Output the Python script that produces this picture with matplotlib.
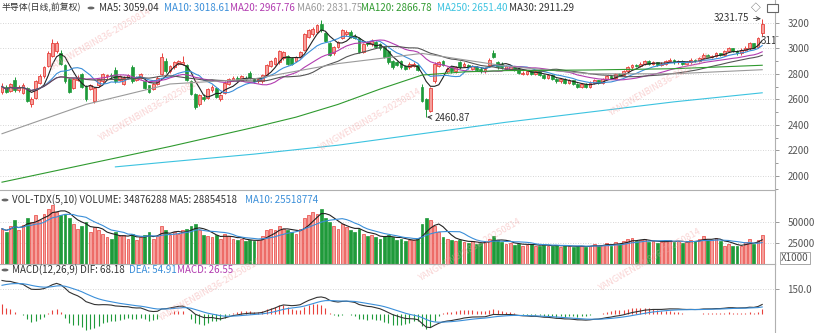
import numpy as np
import pandas as pd
import matplotlib.pyplot as plt
from matplotlib.patches import Rectangle, Circle

plt.rcParams['font.family'] = ['Noto Sans CJK SC', 'DejaVu Sans']

# daily candles (open / high / low / close)
opens = [2660, 2700, 2665, 2750, 2675, 2650, 2690, 2565, 2610, 2730,
         2780, 2860, 2940, 2980, 2960, 2870, 2760, 2690, 2750, 2800,
         2700, 2680, 2590, 2710, 2740, 2780, 2790, 2830, 2750, 2720,
         2770, 2850, 2750, 2770, 2740, 2710, 2680, 2720, 2800, 2900,
         2820, 2850, 2880, 2880, 2870, 2740, 2640, 2560, 2620, 2610,
         2670, 2690, 2600, 2650, 2720, 2750, 2770, 2750, 2770, 2810,
         2760, 2740, 2740, 2790, 2860, 2880, 2890, 2920, 2940, 2920,
         2900, 2930, 2990, 3090, 3110, 3130, 3190, 3120, 3040, 2960,
         3010, 3080, 3110, 3130, 3100, 3080, 2970, 3050, 3030, 3050,
         3030, 3010, 2980, 2900, 2890, 2900, 2860, 2850, 2860, 2870,
         2700, 2600, 2510, 2740, 2860, 2900, 2820, 2850, 2820, 2890,
         2860, 2870, 2840, 2850, 2840, 2820, 2870, 2960, 2890, 2880,
         2840, 2840, 2850, 2840, 2800, 2800, 2820, 2800, 2820, 2790,
         2770, 2790, 2760, 2740, 2760, 2730, 2750, 2720, 2700, 2720,
         2700, 2730, 2750, 2730, 2760, 2780, 2770, 2800, 2790, 2820,
         2850, 2870, 2860, 2880, 2900, 2880, 2890, 2870, 2880, 2900,
         2910, 2890, 2900, 2880, 2890, 2910, 2900, 2920, 2950, 2930,
         2940, 2960, 2950, 2980, 3000, 2980, 2960, 2990, 3000, 3040,
         3010, 3120]
highs = [2725, 2710, 2730, 2775, 2715, 2725, 2700, 2615, 2750, 2795,
         2860, 2975, 3070, 3060, 2990, 2880, 2770, 2770, 2790, 2810,
         2710, 2720, 2700, 2770, 2810, 2800, 2810, 2850, 2790, 2780,
         2800, 2870, 2780, 2810, 2750, 2715, 2730, 2780, 2960, 2920,
         2870, 2900, 2910, 2940, 2880, 2750, 2650, 2640, 2640, 2690,
         2710, 2700, 2640, 2740, 2770, 2780, 2780, 2790, 2780, 2820,
         2770, 2770, 2800, 2880, 2910, 2930, 2990, 2980, 2950, 2930,
         2940, 2980, 3120, 3150, 3170, 3190, 3225, 3130, 3050, 3020,
         3060, 3150, 3140, 3140, 3110, 3090, 3040, 3060, 3070, 3060,
         3040, 3020, 2990, 2910, 2900, 2910, 2870, 2890, 2890, 2880,
         2720, 2610, 2700, 2890, 2900, 2910, 2850, 2860, 2860, 2900,
         2890, 2880, 2870, 2860, 2850, 2850, 2920, 2985, 2900, 2890,
         2870, 2870, 2860, 2850, 2820, 2830, 2830, 2830, 2825, 2800,
         2800, 2795, 2770, 2770, 2765, 2760, 2755, 2730, 2730, 2725,
         2740, 2760, 2755, 2770, 2790, 2790, 2810, 2810, 2830, 2860,
         2880, 2880, 2890, 2910, 2910, 2900, 2895, 2890, 2910, 2920,
         2915, 2910, 2905, 2900, 2920, 2915, 2930, 2960, 2955, 2950,
         2970, 2965, 2990, 3010, 3005, 2985, 3000, 3015, 3050, 3045,
         3090, 3231.75]
lows = [2645, 2650, 2655, 2660, 2660, 2640, 2580, 2540, 2600, 2720,
        2770, 2850, 2930, 2960, 2870, 2730, 2650, 2680, 2740, 2690,
        2590, 2670, 2570, 2700, 2730, 2760, 2770, 2730, 2740, 2710,
        2760, 2730, 2740, 2760, 2680, 2650, 2670, 2710, 2790, 2810,
        2810, 2840, 2870, 2870, 2740, 2630, 2520, 2550, 2590, 2600,
        2660, 2610, 2590, 2640, 2710, 2740, 2740, 2740, 2750, 2760,
        2730, 2730, 2730, 2780, 2850, 2870, 2880, 2910, 2870, 2870,
        2890, 2920, 2980, 3080, 3100, 3120, 3130, 3050, 2940, 2950,
        3000, 3070, 3100, 3080, 3070, 2960, 2960, 3020, 3020, 3000,
        2990, 2920, 2880, 2840, 2860, 2840, 2830, 2840, 2850, 2820,
        2580, 2460.87, 2500, 2730, 2850, 2860, 2810, 2810, 2810, 2840,
        2850, 2840, 2830, 2820, 2810, 2810, 2860, 2920, 2840, 2840,
        2830, 2830, 2820, 2800, 2790, 2790, 2790, 2790, 2780, 2760,
        2760, 2750, 2730, 2730, 2720, 2720, 2710, 2690, 2690, 2690,
        2690, 2720, 2720, 2720, 2750, 2760, 2760, 2780, 2780, 2810,
        2840, 2850, 2850, 2870, 2870, 2870, 2860, 2860, 2870, 2890,
        2880, 2880, 2870, 2870, 2880, 2890, 2890, 2910, 2920, 2920,
        2930, 2940, 2940, 2970, 2970, 2950, 2950, 2980, 2990, 3030,
        3000, 3100]
closes = [2700, 2660, 2720, 2670, 2700, 2710, 2590, 2600, 2740, 2780,
          2850, 2960, 3040, 3040, 2880, 2740, 2660, 2760, 2770, 2700,
          2600, 2710, 2690, 2760, 2800, 2790, 2780, 2740, 2780, 2770,
          2790, 2740, 2770, 2800, 2690, 2660, 2720, 2770, 2930, 2820,
          2860, 2890, 2900, 2890, 2750, 2640, 2540, 2630, 2600, 2680,
          2700, 2620, 2630, 2730, 2760, 2770, 2750, 2780, 2760, 2770,
          2740, 2760, 2790, 2870, 2900, 2920, 2980, 2970, 2880, 2880,
          2930, 2970, 3110, 3140, 3150, 3180, 3140, 3060, 2950, 3010,
          3050, 3140, 3130, 3090, 3080, 2970, 3030, 3030, 3060, 3010,
          3000, 2930, 2890, 2850, 2870, 2850, 2840, 2880, 2880, 2830,
          2590, 2520, 2690, 2880, 2890, 2870, 2840, 2820, 2850, 2850,
          2880, 2850, 2860, 2830, 2820, 2840, 2910, 2930, 2850, 2850,
          2860, 2860, 2830, 2810, 2810, 2820, 2800, 2820, 2790, 2770,
          2790, 2760, 2740, 2760, 2730, 2750, 2720, 2700, 2720, 2700,
          2730, 2750, 2730, 2760, 2780, 2770, 2800, 2790, 2820, 2850,
          2870, 2860, 2880, 2900, 2880, 2890, 2870, 2880, 2900, 2910,
          2890, 2900, 2880, 2890, 2910, 2900, 2920, 2950, 2930, 2940,
          2960, 2950, 2980, 3000, 2980, 2960, 2990, 3000, 3040, 3000,
          3080, 3190]

# volume, in thousands
volumes = [42000, 38000, 45000, 52000, 40000, 47000, 55000, 50000, 58000, 52000,
           60000, 66000, 70000, 62000, 58000, 60000, 55000, 48000, 42000, 45000,
           50000, 38000, 44000, 40000, 36000, 32000, 30000, 38000, 33000, 35000,
           30000, 36000, 28000, 32000, 35000, 38000, 30000, 33000, 45000, 40000,
           35000, 38000, 36000, 40000, 42000, 45000, 48000, 40000, 35000, 33000,
           32000, 34000, 30000, 36000, 33000, 30000, 28000, 30000, 27000, 29000,
           27000, 28000, 33000, 40000, 42000, 40000, 45000, 42000, 40000, 38000,
           36000, 42000, 55000, 58000, 62000, 60000, 65000, 55000, 50000, 45000,
           42000, 48000, 44000, 40000, 38000, 42000, 36000, 33000, 35000, 32000,
           30000, 33000, 35000, 32000, 28000, 30000, 27000, 29000, 28000, 30000,
           48000, 55000, 52000, 45000, 38000, 32000, 30000, 28000, 27000, 29000,
           26000, 25000, 27000, 24000, 25000, 26000, 30000, 33000, 28000, 26000,
           24000, 25000, 23000, 24000, 22000, 23000, 24000, 22000, 21000, 23000,
           22000, 21000, 23000, 20000, 22000, 21000, 20000, 22000, 21000, 20000,
           22000, 24000, 21000, 23000, 25000, 22000, 26000, 24000, 27000, 30000,
           31000, 27000, 28000, 30000, 26000, 27000, 25000, 26000, 29000, 28000,
           26000, 27000, 25000, 26000, 29000, 27000, 30000, 33000, 28000, 29000,
           31000, 27000, 22000, 24000, 21000, 22000, 22000, 26000, 30000, 24000,
           29000, 34876]

# long moving averages, read at a few sessions
ma60_idx = [0, 20, 40, 60, 80, 100, 120, 140, 160, 181]
ma60_val = [2330, 2560, 2720, 2760, 2880, 2960, 2860, 2800, 2800, 2832]
ma120_idx = [0, 20, 40, 60, 70, 80, 90, 100, 110, 120, 140, 160, 181]
ma120_val = [1950, 2090, 2230, 2380, 2460, 2560, 2680, 2790, 2815, 2825, 2830, 2840, 2867]
ma250_idx = [27, 40, 60, 80, 100, 120, 140, 160, 181]
ma250_val = [2070, 2110, 2170, 2240, 2330, 2420, 2500, 2580, 2651]

# MACD state carried in from the sessions before the first candle
ema12_start = 2500.0
ema26_start = 2300.0
dea_start = 165.0

W, H = 818, 333
fig = plt.figure(figsize=(W / 100, H / 100), dpi=100)
fig.patch.set_facecolor('white')

AX_RIGHT = 775
def panel(top, bottom):
    return fig.add_axes([0, 1 - bottom / H, AX_RIGHT / W, (bottom - top) / H])

ax = panel(0, 190)
axv = panel(190, 264)
axm = panel(264, 333)

n = len(closes)
idx = np.arange(n)
o = np.array(opens, float)
h = np.array(highs, float)
l = np.array(lows, float)
c = np.array(closes, float)
up = c >= o

UP_EDGE = '#e8413c'
UP_FACE = '#f5a09c'
DN = '#1f9a3a'
GRID = '#c8c8c8'
TXT = '#333333'
FS = 7

x_lo = -2 / 4.2
x_hi = (AX_RIGHT - 2) / 4.2
for a in (ax, axv, axm):
    a.set_xlim(x_lo, x_hi)
    a.set_xticks([])
    for s in ('left', 'bottom'):
        a.spines[s].set_visible(False)
    a.spines['top'].set_color('#b0b0b0')
    a.spines['top'].set_linewidth(0.8)
    a.spines['right'].set_color('#b0b0b0')
    a.spines['right'].set_linewidth(0.8)
    a.yaxis.tick_right()
    a.tick_params(axis='y', which='both', colors='#888888', labelcolor='#555555',
                  labelsize=FS, pad=6, length=3, width=0.6)
    a.tick_params(axis='y', which='minor', length=2)
ax.spines['top'].set_visible(False)

# main price panel
ax.set_ylim(1888.6, 3378.8)
ticks = [2000, 2200, 2400, 2600, 2800, 3000, 3200]
ax.set_yticks(ticks)
ax.set_yticks(np.arange(1900, 3300, 100), minor=True)
ax.set_yticklabels([str(t) for t in ticks])
for t in ticks:
    ax.axhline(t, color=GRID, lw=0.6, ls=(0, (1, 2)), zorder=0)

ax.vlines(idx[up], l[up], h[up], color=UP_EDGE, lw=0.7, zorder=3)
ax.vlines(idx[~up], l[~up], h[~up], color=DN, lw=0.7, zorder=3)
ax.bar(idx[up], np.maximum(c[up] - o[up], 2), bottom=o[up], width=0.62,
       color=UP_FACE, edgecolor=UP_EDGE, linewidth=0.6, zorder=4)
ax.bar(idx[~up], np.maximum(o[~up] - c[~up], 2), bottom=c[~up], width=0.62,
       color=DN, edgecolor=DN, linewidth=0.5, zorder=4)

cs = pd.Series(c)
ma_styles = [(5, '#222222'), (10, '#3b8fd9'), (20, '#b23cb0'), (30, '#555555')]
for win, col in ma_styles:
    ax.plot(idx, cs.rolling(win, min_periods=1).mean(), color=col, lw=0.8, zorder=5)
ax.plot(ma60_idx, ma60_val, color='#9a9a9a', lw=0.8, zorder=5)
ax.plot(ma120_idx, ma120_val, color='#2f9a2f', lw=0.8, zorder=5)
ax.plot(ma250_idx, ma250_val, color='#3cc3e0', lw=0.8, zorder=5)

hi_i = int(np.argmax(h))
lo_i = int(np.argmin(l))
ax.annotate(f'{h[hi_i]:.2f}', xy=(hi_i - 0.3, h[hi_i]), xytext=(-47, 1),
            textcoords='offset pixels', fontsize=FS, color=TXT, va='center',
            arrowprops=dict(arrowstyle='->', color=TXT, lw=0.6, shrinkA=1, shrinkB=0))
ax.annotate(f'{l[lo_i]:.2f}', xy=(lo_i + 0.2, l[lo_i]), xytext=(8, -1),
            textcoords='offset pixels', fontsize=FS, color=TXT, va='center',
            arrowprops=dict(arrowstyle='->', color=TXT, lw=0.6, shrinkA=1, shrinkB=0))
ax.text(n - 1.3, 3055, '3111.24', fontsize=FS, color=TXT, va='center', ha='left',
        clip_on=True, zorder=6)

# volume panel
vol = np.array(volumes, float)
axv.set_ylim(0, 88100)
axv.set_yticks([25000, 50000])
axv.set_yticklabels(['25000', '50000'])
for t in (25000, 50000):
    axv.axhline(t, color=GRID, lw=0.6, ls=(0, (1, 2)), zorder=0)
axv.bar(idx[up], vol[up], width=0.62, color=UP_FACE, edgecolor=UP_EDGE, linewidth=0.5, zorder=3)
axv.bar(idx[~up], vol[~up], width=0.62, color=DN, edgecolor=DN, linewidth=0.5, zorder=3)
vs = pd.Series(vol)
axv.plot(idx, vs.rolling(5, min_periods=1).mean(), color='#222222', lw=0.8, zorder=4)
axv.plot(idx, vs.rolling(10, min_periods=1).mean(), color='#3b8fd9', lw=0.8, zorder=4)

# MACD panel
e12, e26, d = ema12_start, ema26_start, dea_start
dif, dea = [], []
for price in c:
    e12 += (price - e12) * 2 / 13
    e26 += (price - e26) * 2 / 27
    d += ((e12 - e26) - d) * 2 / 10
    dif.append(e12 - e26)
    dea.append(d)
dif = np.array(dif)
dea = np.array(dea)
hist = 2 * (dif - dea)
axm.set_ylim(-114, 300)
axm.set_yticks([150])
axm.set_yticklabels(['150.0'])
axm.axhline(150, color=GRID, lw=0.6, ls=(0, (1, 2)), zorder=0)
pos = hist >= 0
axm.vlines(idx[pos], 0, hist[pos], color='#e8413c', lw=0.8)
axm.vlines(idx[~pos], 0, hist[~pos], color='#1f9a3a', lw=0.8)
axm.plot(idx, dif, color='#333333', lw=0.8)
axm.plot(idx, dea, color='#3b8fd9', lw=0.8)

# panel captions
def caption(x, y, s, color=TXT, size=FS):
    fig.text(x / W, 1 - y / H, s, fontsize=size, color=color, va='center', ha='left')

def gear(x, y):
    fig.patches.append(Circle((x / W, 1 - y / H), 3.5 / W, transform=fig.transFigure,
                              facecolor='#666666', edgecolor='none'))

caption(2, 8, '半导体(日线,前复权)', size=6.4)
gear(91, 8)
caption(99, 8, 'MA5: 3059.04')
caption(164, 8, 'MA10: 3018.61', '#3b8fd9')
caption(230, 8, 'MA20: 2967.76', '#b23cb0')
caption(297, 8, 'MA60: 2831.75', '#9a9a9a')
caption(361, 8, 'MA120: 2866.78', '#2f9a2f')
caption(437, 8, 'MA250: 2651.40', '#3cc3e0')
caption(509, 8, 'MA30: 2911.29')
caption(751, 8, '◇', '#555555')
fig.patches.append(Rectangle((767 / W, 1 - 12 / H), 11 / W, 8 / H, transform=fig.transFigure,
                             facecolor='white', edgecolor='#666666', lw=0.8))

gear(5, 200)
caption(12, 200, 'VOL-TDX(5,10) VOLUME: 34876288 MA5: 28854518')
caption(245, 200, 'MA10: 25518774', '#3b8fd9')
fig.text(781 / W, 1 - 258 / H, 'X1000', fontsize=FS, color='#555555', va='center', ha='left',
         bbox=dict(boxstyle='square,pad=0.1', facecolor='white', edgecolor='#999999', lw=0.6))

gear(5, 270)
caption(12, 270, 'MACD(12,26,9) DIF: 68.18')
caption(129, 270, 'DEA: 54.91', '#3b8fd9')
caption(177, 270, 'MACD: 26.55', '#b23cb0')

# watermark
for wx, wy in [(100, 40), (150, 110), (370, 120), (660, 85), (210, 290), (470, 250), (650, 260)]:
    fig.text(wx / W, 1 - wy / H, 'YANGWENBIN836-20250814', fontsize=6.5, color='#f2a0a0',
             alpha=0.45, rotation=30, ha='center', va='center', zorder=10)

fig.savefig('out.png', dpi=100)
